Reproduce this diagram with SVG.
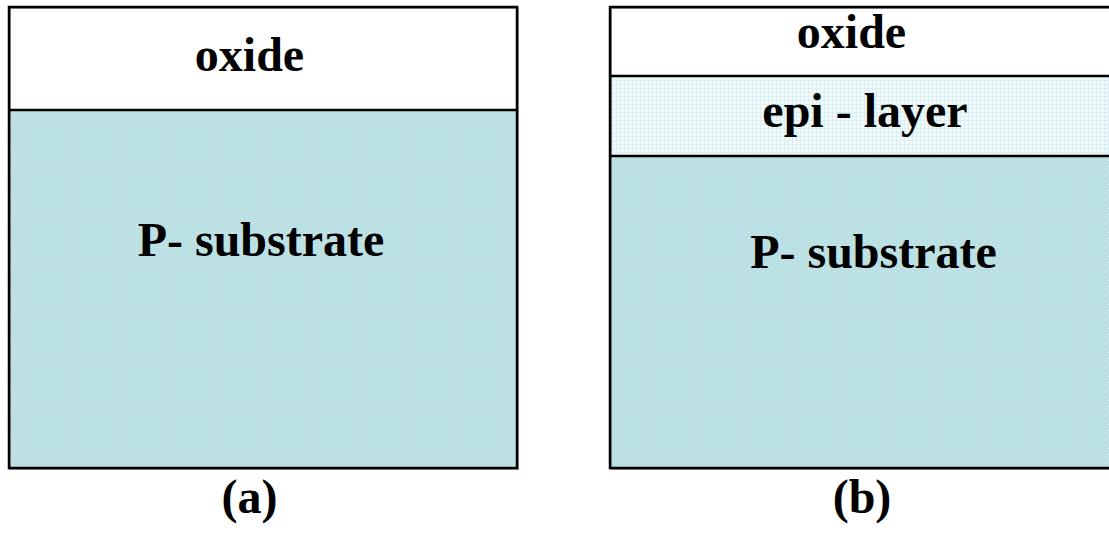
<svg xmlns="http://www.w3.org/2000/svg" width="1109" height="539" viewBox="0 0 1109 539">
  <style>
    .lbl { font-family: "Liberation Serif", "Times New Roman", serif; font-weight: bold; font-size: 48px; fill: #000; text-anchor: middle; }
    .edge { fill: none; stroke: #000; stroke-width: 2.5; }
    .shadow { fill: none; stroke: #9a9a9a; stroke-width: 2; }
  </style>
  <defs>
    <!-- dotted texture for the substrate -->
    <pattern id="subTex" width="6" height="6" patternUnits="userSpaceOnUse">
      <rect width="6" height="6" fill="#bbe0e3"/>
      <rect x="1" y="1" width="1" height="1" fill="#d6eef0"/>
      <rect x="4" y="4" width="1" height="1" fill="#d6eef0"/>
    </pattern>
    <!-- fine grid texture for the epi layer -->
    <pattern id="epiTex" width="4" height="4" patternUnits="userSpaceOnUse">
      <rect width="4" height="4" fill="#f2fafb"/>
      <rect x="0" y="0" width="4" height="1" fill="#d9eff2"/>
      <rect x="0" y="0" width="1" height="4" fill="#d9eff2"/>
    </pattern>
  </defs>

  <!-- (a) oxide on P- substrate -->
  <g id="stack-a">
    <rect x="9" y="7" width="508" height="103" fill="#fff"/>
    <rect x="9" y="110" width="508" height="358" fill="url(#subTex)"/>
    <rect x="9" y="7" width="508" height="461" class="shadow" transform="translate(1,1)"/>
    <rect x="9" y="7" width="508" height="461" class="edge"/>
    <line x1="9" y1="110" x2="517" y2="110" class="edge"/>
    <text class="lbl" x="249.5" y="71">oxide</text>
    <text class="lbl" x="261" y="256">P- substrate</text>
    <text class="lbl" x="249.5" y="513">(a)</text>
  </g>

  <!-- (b) oxide on epi-layer on P- substrate -->
  <g id="stack-b">
    <rect x="610" y="7" width="510" height="69" fill="#fff"/>
    <rect x="610" y="76" width="510" height="80" fill="url(#epiTex)"/>
    <rect x="610" y="156" width="510" height="312" fill="url(#subTex)"/>
    <rect x="610" y="7" width="510" height="461" class="shadow" transform="translate(1,1)"/>
    <rect x="610" y="7" width="510" height="461" class="edge"/>
    <line x1="610" y1="76" x2="1120" y2="76" class="edge"/>
    <line x1="610" y1="156" x2="1120" y2="156" class="edge"/>
    <text class="lbl" x="851.5" y="48">oxide</text>
    <text class="lbl" x="865" y="127">epi - layer</text>
    <text class="lbl" x="873.5" y="268">P- substrate</text>
    <text class="lbl" x="862" y="513">(b)</text>
  </g>
</svg>
